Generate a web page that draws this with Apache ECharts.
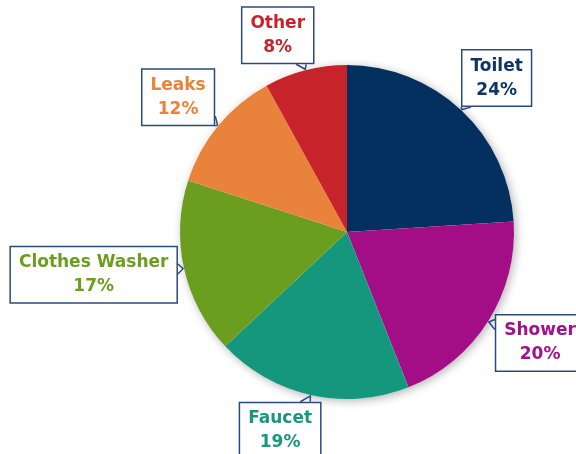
<!DOCTYPE html>
<html>
<head>
<meta charset="utf-8">
<script src="https://cdn.jsdelivr.net/npm/echarts@6/dist/echarts.min.js"></script>
<style>
  html, body { margin: 0; padding: 0; background: #ffffff; }
  #chart { width: 576px; height: 454px; }
</style>
</head>
<body>
<div id="chart"></div>
<script>
// ---- data ----
const categories = ['Toilet', 'Shower', 'Faucet', 'Clothes Washer', 'Leaks', 'Other'];
const shares = [24, 20, 19, 17, 12, 8];
const sliceColors = ['#04305f', '#a30d86', '#15977e', '#6b9e1f', '#e9823a', '#c7232a'];
const textColors = ['#0f3566', '#a1128a', '#17977e', '#6b9e1f', '#e9823a', '#c7232a'];

// ---- layout ----
const CX = 347, CY = 232, R = 167;
const GAP = 2;
const BORDER = '#2b4a7c';
// small angular adjustments (degrees) of each callout box around the pie
const calloutTurn = [1, -2.5, 6, 3, -1, -5];

const total = shares.reduce((a, b) => a + b, 0);
const cumBefore = [];
shares.reduce((acc, v, i) => { cumBefore[i] = acc; return acc + v; }, 0);

const chart = echarts.init(document.getElementById('chart'), null, { renderer: 'canvas' });

function layoutLabel(p) {
  const i = p.dataIndex;
  const mid = (cumBefore[i] + shares[i] / 2) / total * Math.PI * 2;
  const dx = Math.sin(mid), dy = -Math.cos(mid);
  const ang = mid + calloutTurn[i] * Math.PI / 180;
  const ux = Math.sin(ang), uy = -Math.cos(ang);
  const hw = p.labelRect.width / 2, hh = p.labelRect.height / 2;
  const d = R + GAP + Math.abs(ux) * hw + Math.abs(uy) * hh;
  const lx = CX + ux * d, ly = CY + uy * d;
  const tipX = CX + dx * (R + 1), tipY = CY + dy * (R + 1);
  const vx = tipX - lx, vy = tipY - ly;
  const tx = Math.abs(vx) / hw, ty = Math.abs(vy) / hh;
  const half = 5;
  const clamp = (v, a, b) => Math.max(a, Math.min(b, v));
  let pts;
  if (tx > ty) {
    const sx = lx + Math.sign(vx) * hw;
    const yi = ly + vy / tx;
    const y1 = clamp(yi - half, ly - hh, ly + hh - 2 * half);
    pts = [[sx, y1], [tipX, tipY], [sx, y1 + 2 * half]];
  } else {
    const sy = ly + Math.sign(vy) * hh;
    const xi = lx + vx / ty;
    const x1 = clamp(xi - half, lx - hw, lx + hw - 2 * half);
    pts = [[x1, sy], [tipX, tipY], [x1 + 2 * half, sy]];
  }
  return {
    x: lx, y: ly, align: 'center', verticalAlign: 'middle',
    labelLinePoints: pts
  };
}

const option = {
  backgroundColor: '#ffffff',
  animation: false,
  series: [
    {
      // soft shadow disc behind the pie
      type: 'pie',
      silent: true,
      center: [CX, CY],
      radius: R,
      z: 1,
      label: { show: false },
      labelLine: { show: false },
      itemStyle: {
        color: '#ffffff',
        shadowBlur: 10,
        shadowColor: 'rgba(0,0,0,0.30)',
        shadowOffsetX: 2,
        shadowOffsetY: 2
      },
      data: [{ value: total, name: '' }]
    },
    {
      type: 'pie',
      center: [CX, CY],
      radius: R,
      startAngle: 90,
      clockwise: true,
      z: 2,
      avoidLabelOverlap: false,
      itemStyle: { borderWidth: 0 },
      label: {
        show: true,
        position: 'outside',
        formatter: '{b}\n{c}%',
        fontFamily: 'DejaVu Sans',
        fontWeight: 'bold',
        fontSize: 17,
        lineHeight: 24,
        align: 'center',
        backgroundColor: '#ffffff',
        borderColor: BORDER,
        borderWidth: 1.5,
        padding: [4, 8, 3, 8]
      },
      labelLine: {
        show: true,
        smooth: false,
        lineStyle: { color: BORDER, width: 1.5 }
      },
      labelLayout: layoutLabel,
      emphasis: { disabled: true },
      data: categories.map((name, i) => ({
        name: name,
        value: shares[i],
        itemStyle: { color: sliceColors[i] },
        label: { color: textColors[i] }
      }))
    }
  ]
};

chart.setOption(option);
</script>
</body>
</html>
